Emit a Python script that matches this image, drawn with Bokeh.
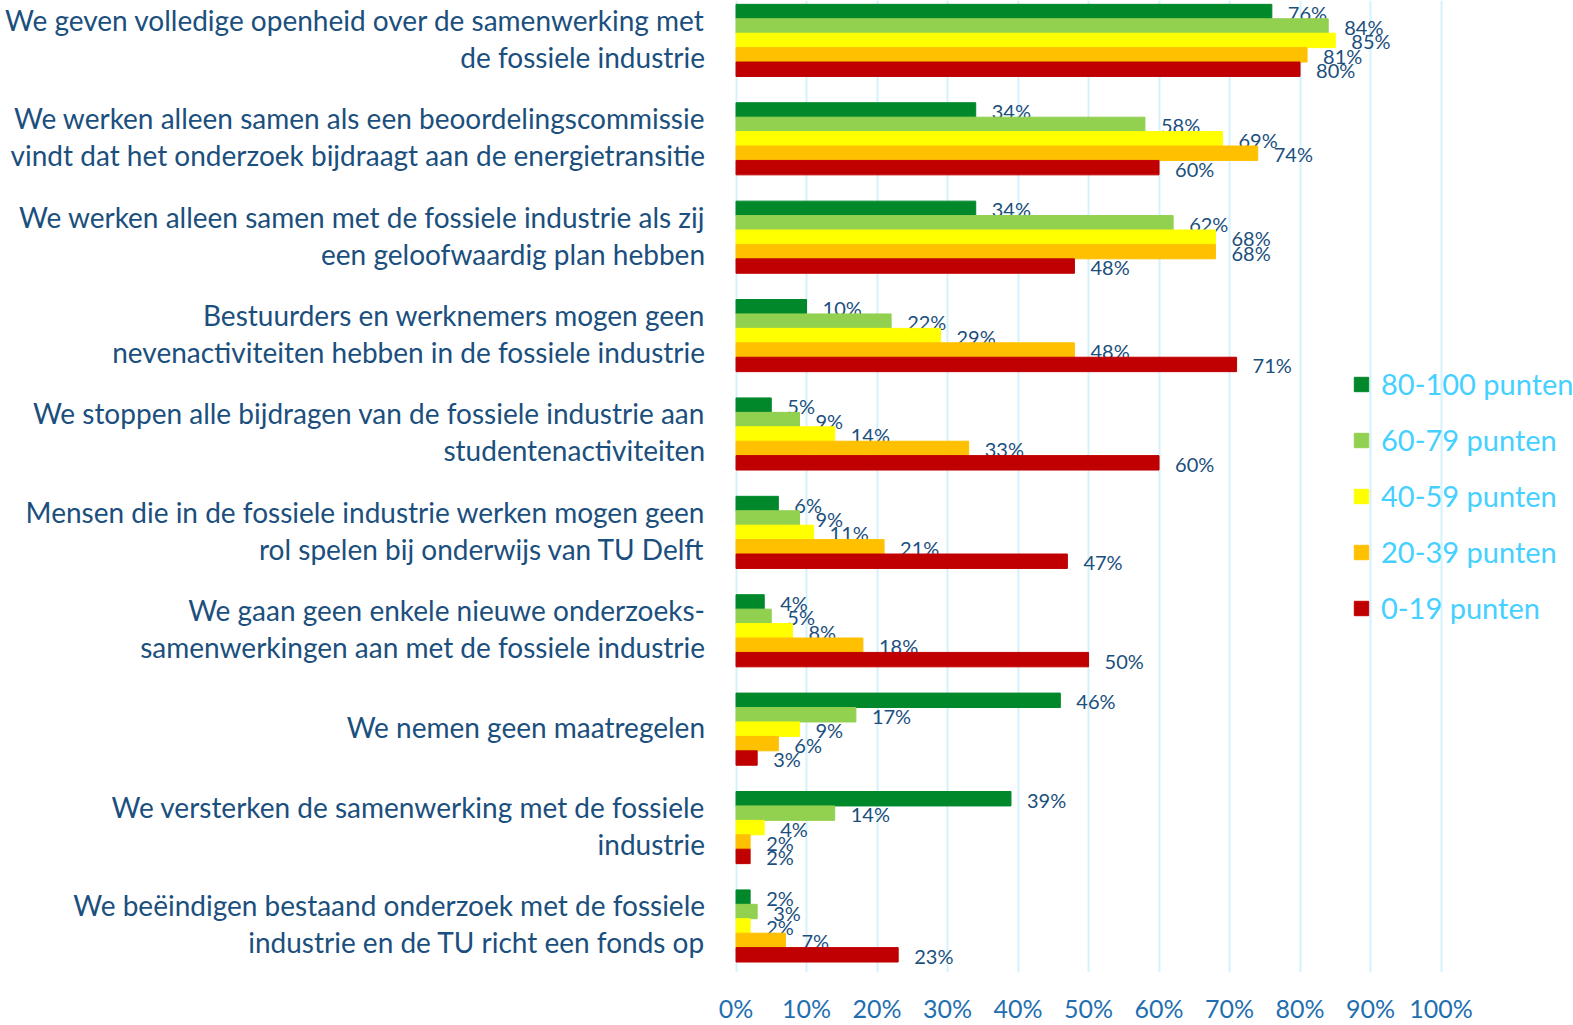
from bokeh.plotting import figure
from bokeh.models import (ColumnDataSource, Range1d, FixedTicker, PrintfTickFormatter,
                          Legend, LegendItem)
from bokeh.core.properties import value
from bokeh.embed import file_html
from bokeh.resources import INLINE

categories = [
    "We geven volledige openheid over de samenwerking met\nde fossiele industrie",
    "We werken alleen samen als een beoordelingscommissie\nvindt dat het onderzoek bijdraagt aan de energietransitie",
    "We werken alleen samen met de fossiele industrie als zij\neen geloofwaardig plan hebben",
    "Bestuurders en werknemers mogen geen\nnevenactiviteiten hebben in de fossiele industrie",
    "We stoppen alle bijdragen van de fossiele industrie aan\nstudentenactiviteiten",
    "Mensen die in de fossiele industrie werken mogen geen\nrol spelen bij onderwijs van TU Delft",
    "We gaan geen enkele nieuwe onderzoeks-\nsamenwerkingen aan met de fossiele industrie",
    "We nemen geen maatregelen",
    "We versterken de samenwerking met de fossiele\nindustrie",
    "We beëindigen bestaand onderzoek met de fossiele\nindustrie en de TU richt een fonds op",
]
series_names = ["80-100 punten", "60-79 punten", "40-59 punten", "20-39 punten", "0-19 punten"]
s_80_100 = [76, 34, 34, 10, 5, 6, 4, 46, 39, 2]
s_60_79 = [84, 58, 62, 22, 9, 9, 5, 17, 14, 3]
s_40_59 = [85, 69, 68, 29, 14, 11, 8, 9, 4, 2]
s_20_39 = [81, 74, 68, 48, 33, 21, 18, 6, 2, 7]
s_0_19 = [80, 60, 48, 71, 60, 47, 50, 3, 2, 23]
series_values = [s_80_100, s_60_79, s_40_59, s_20_39, s_0_19]
colors = ["#00882b", "#92d050", "#ffff00", "#ffc000", "#c00000"]
tick_values = list(range(0, 101, 10))

LABEL_BLUE = "#1b4f7d"
FONT = "Lato"

p = figure(width=1573, height=1025, output_backend="svg", toolbar_location=None,
           x_range=Range1d(-104.33, 118.79), y_range=Range1d(9.473, -0.4055),
           y_axis_location=None, min_border_left=0, min_border_right=0,
           min_border_top=0, min_border_bottom=48)
p.outline_line_color = None
p.background_fill_color = "white"
p.border_fill_color = "white"

# axis
ax = p.xaxis[0]
ax.ticker = FixedTicker(ticks=tick_values)
ax.formatter = PrintfTickFormatter(format="%d%%")
ax.axis_line_color = None
ax.major_tick_line_color = None
ax.minor_tick_line_color = None
ax.major_tick_out = 0
ax.major_tick_in = 0
ax.minor_tick_out = 0
ax.major_label_text_font = FONT
ax.major_label_text_font_size = "25px"
ax.major_label_text_color = "#1f6fb0"
ax.major_label_standoff = 20

p.xgrid.ticker = FixedTicker(ticks=tick_values)
p.xgrid.grid_line_color = "#d4f2fb"
p.xgrid.grid_line_width = 2
p.ygrid.grid_line_color = None

bar_h = 0.1466
items = []
for j, (name, vals, col) in enumerate(zip(series_names, series_values, colors)):
    ys = [i + (j - 2) * bar_h for i in range(len(categories))]
    src = ColumnDataSource(dict(y=ys, v=vals, lab=[f"{v}%" for v in vals]))
    r = p.hbar(y="y", left=0, right="v", height=bar_h, source=src,
               fill_color=col, line_color=col, line_width=1)
    items.append(LegendItem(label=name, renderers=[r]))
    p.text(x="v", y="y", text="lab", source=src, x_offset=16, y_offset=1,
           text_font=value(FONT), text_font_size="20px", text_color=LABEL_BLUE,
           text_align="left", text_baseline="middle")

# category labels
csrc = ColumnDataSource(dict(y=list(range(len(categories))), t=categories,
                             x=[0] * len(categories)))
p.text(x="x", y="y", text="t", source=csrc, x_offset=-31, y_offset=-2,
       text_font=value(FONT), text_font_size="28px", text_color=LABEL_BLUE,
       text_align="right", text_baseline="middle", text_line_height=1.09)

legend = Legend(items=items, location=(1352, 347), orientation="vertical",
                label_text_font=FONT, label_text_font_size="29px",
                label_text_color="#45d0ff", glyph_width=18, glyph_height=18,
                label_standoff=11, spacing=21, padding=0, margin=0,
                border_line_color=None, background_fill_alpha=0)
p.add_layout(legend)

open("out.html", "w").write(file_html(p, INLINE))
